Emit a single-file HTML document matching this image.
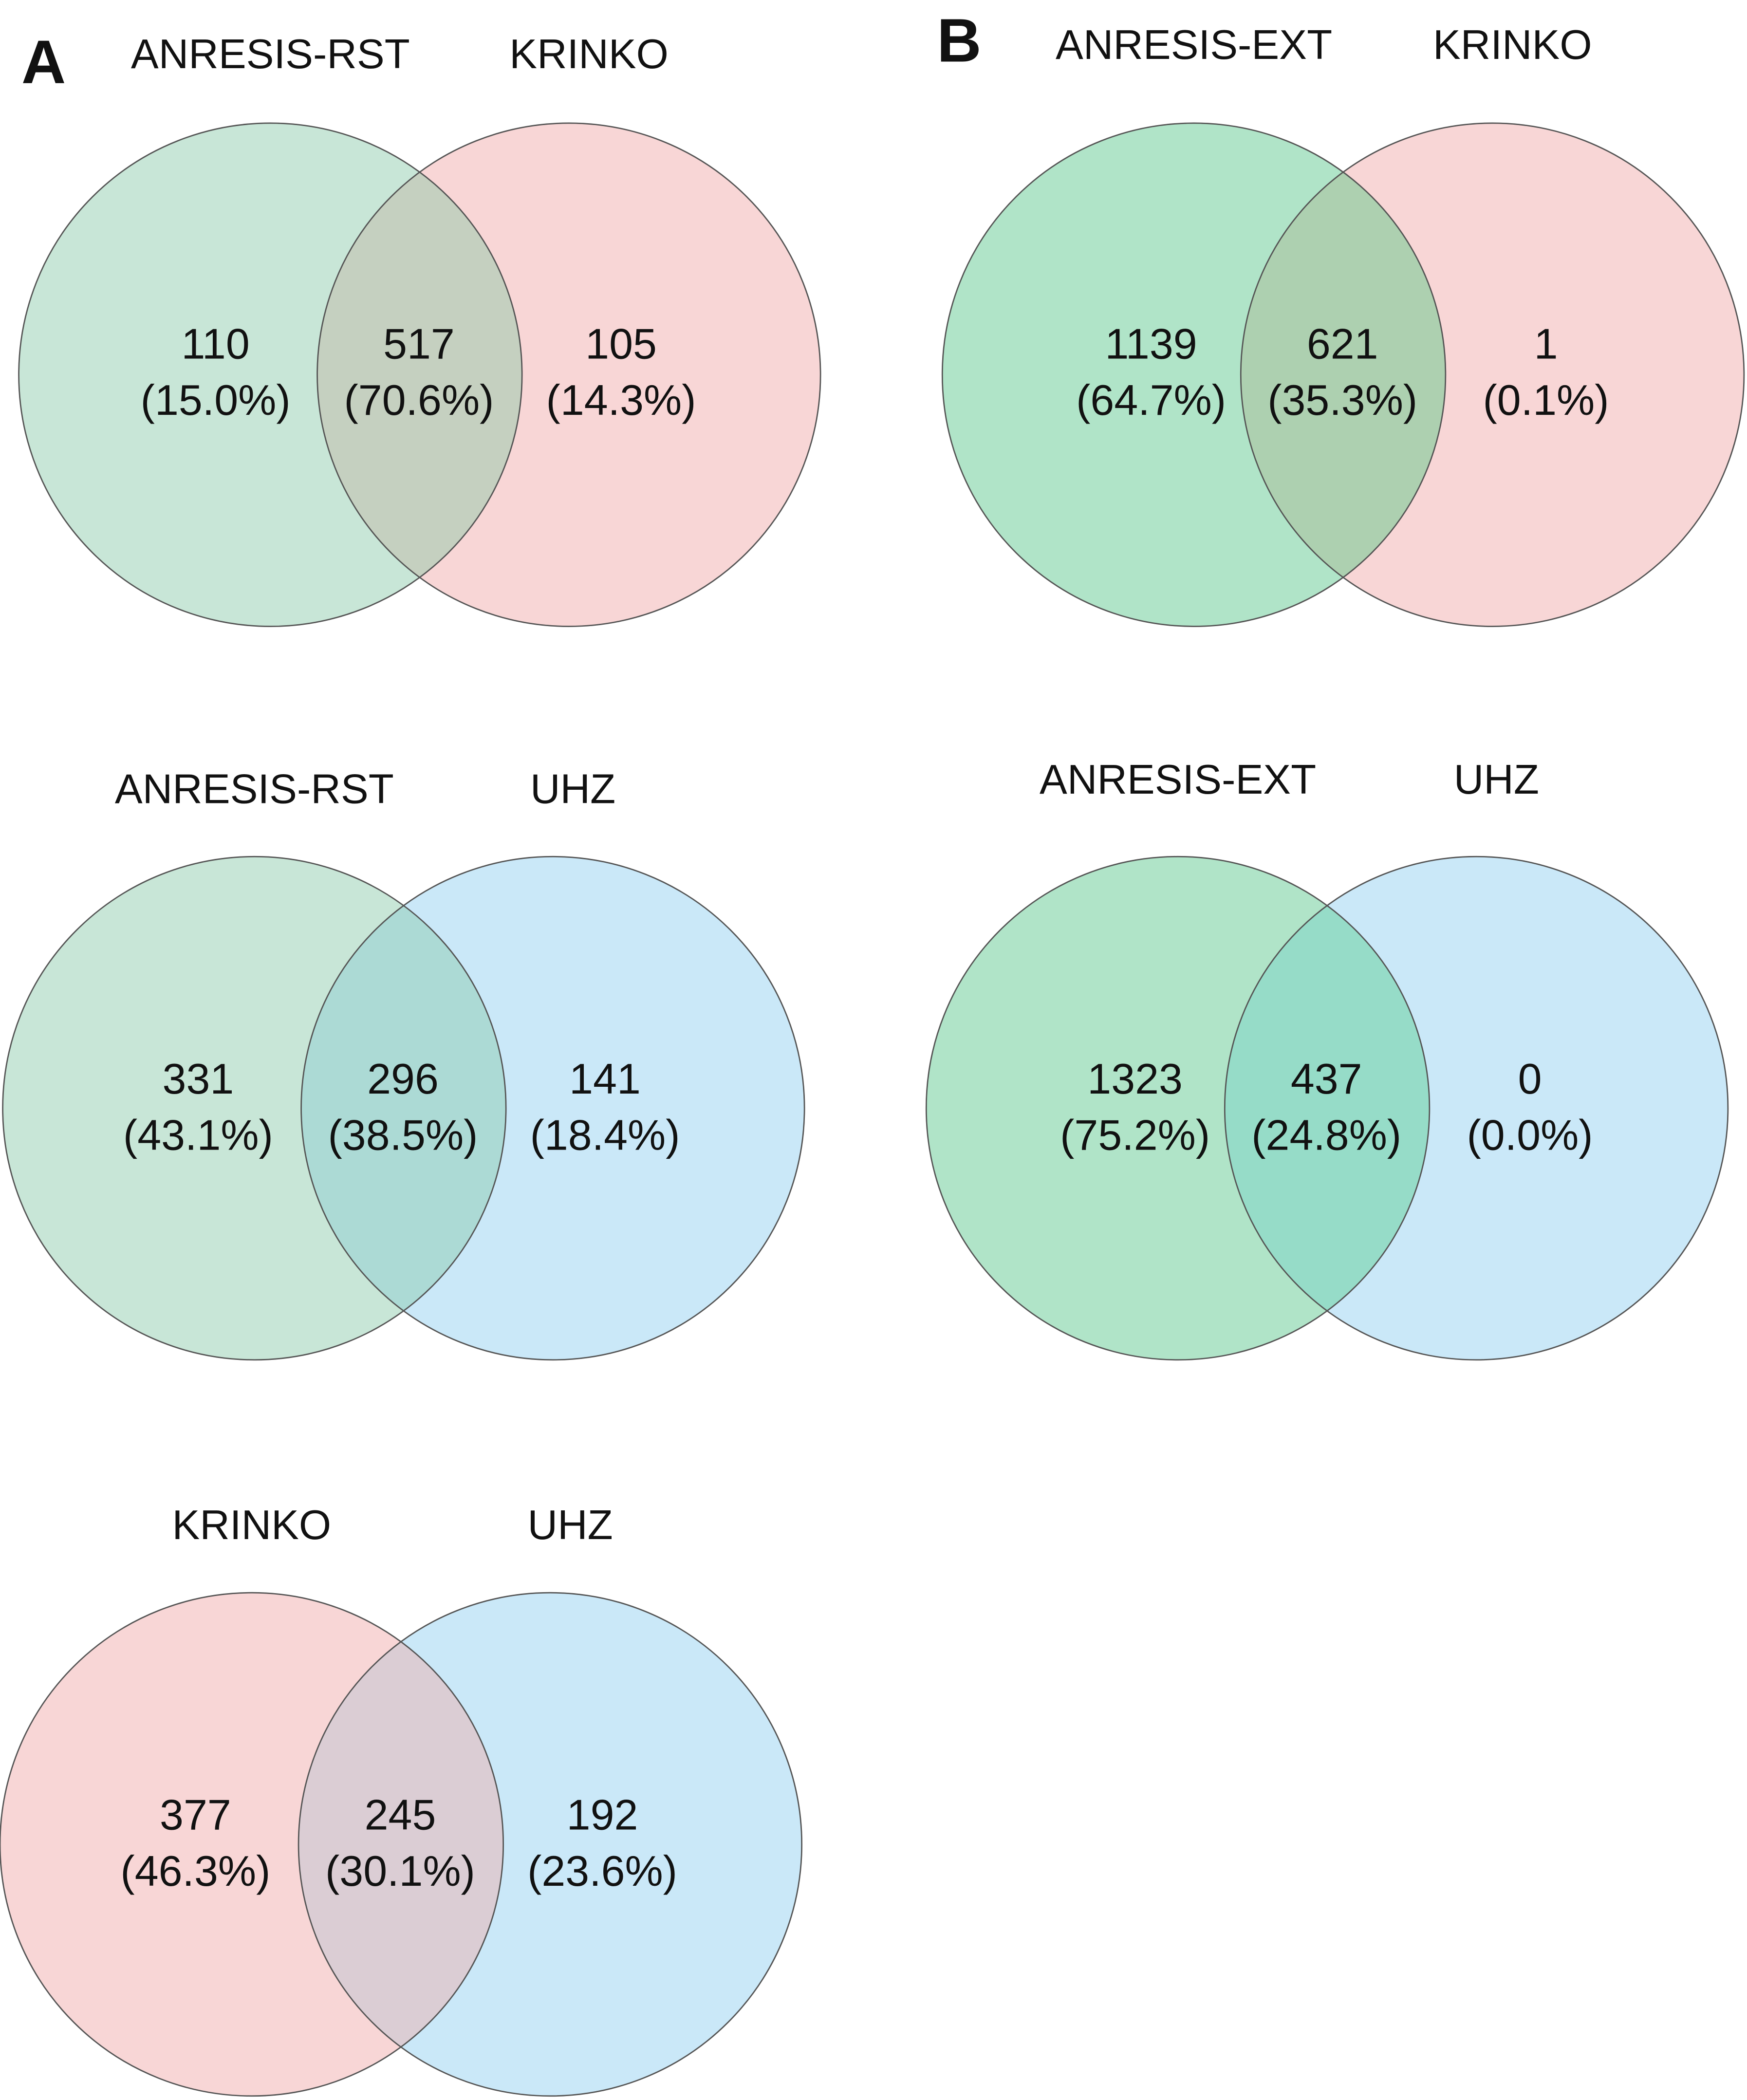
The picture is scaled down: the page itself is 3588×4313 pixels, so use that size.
<!DOCTYPE html>
<html><head><meta charset="utf-8"><style>
html,body{margin:0;padding:0;background:#fff;}
svg{display:block;}
text{font-family:"Liberation Sans",sans-serif;fill:#111;}
</style></head><body>
<svg width="3588" height="4313" viewBox="0 0 1305.2 1569" xmlns="http://www.w3.org/2000/svg">
<defs>
<clipPath id="c1"><circle cx="202" cy="280" r="188"/></clipPath>
<clipPath id="c2"><circle cx="190" cy="828" r="188"/></clipPath>
<clipPath id="c3"><circle cx="188" cy="1378" r="188"/></clipPath>
<clipPath id="c4"><circle cx="892" cy="280" r="188"/></clipPath>
<clipPath id="c5"><circle cx="880" cy="828" r="188"/></clipPath>
</defs>
<rect width="1305.2" height="1569" fill="#fff"/>
<g>
<circle cx="202" cy="280" r="188" fill="#c8e6d7"/>
<circle cx="425" cy="280" r="188" fill="#f8d6d6"/>
<circle cx="425" cy="280" r="188" fill="#c5d0c0" clip-path="url(#c1)"/>
<circle cx="190" cy="828" r="188" fill="#c8e6d7"/>
<circle cx="413" cy="828" r="188" fill="#cae8f8"/>
<circle cx="413" cy="828" r="188" fill="#acdad5" clip-path="url(#c2)"/>
<circle cx="188" cy="1378" r="188" fill="#f8d6d6"/>
<circle cx="411" cy="1378" r="188" fill="#cae8f8"/>
<circle cx="411" cy="1378" r="188" fill="#dbcdd4" clip-path="url(#c3)"/>
<circle cx="892" cy="280" r="188" fill="#b0e4c8"/>
<circle cx="1115" cy="280" r="188" fill="#f8d6d6"/>
<circle cx="1115" cy="280" r="188" fill="#add0b0" clip-path="url(#c4)"/>
<circle cx="880" cy="828" r="188" fill="#b0e4c8"/>
<circle cx="1103" cy="828" r="188" fill="#cae8f8"/>
<circle cx="1103" cy="828" r="188" fill="#96dcc8" clip-path="url(#c5)"/>
</g>
<g stroke="#555" stroke-width="1" fill="none">
<circle cx="202" cy="280" r="188"/><circle cx="425" cy="280" r="188"/>
<circle cx="190" cy="828" r="188"/><circle cx="413" cy="828" r="188"/>
<circle cx="188" cy="1378" r="188"/><circle cx="411" cy="1378" r="188"/>
<circle cx="892" cy="280" r="188"/><circle cx="1115" cy="280" r="188"/>
<circle cx="880" cy="828" r="188"/><circle cx="1103" cy="828" r="188"/>
</g>
<g font-size="31" text-anchor="middle">
<text x="202" y="51">ANRESIS-RST</text><text x="440" y="51">KRINKO</text>
<text x="190" y="600">ANRESIS-RST</text><text x="428" y="600">UHZ</text>
<text x="188" y="1150">KRINKO</text><text x="426" y="1150">UHZ</text>
<text x="892" y="44">ANRESIS-EXT</text><text x="1130" y="44">KRINKO</text>
<text x="880" y="593">ANRESIS-EXT</text><text x="1118" y="593">UHZ</text>
</g>
<g font-size="32" text-anchor="middle">
<text x="161" y="268">110</text><text x="161" y="310">(15.0%)</text>
<text x="313" y="268">517</text><text x="313" y="310">(70.6%)</text>
<text x="464" y="268">105</text><text x="464" y="310">(14.3%)</text>
<text x="148" y="817">331</text><text x="148" y="859">(43.1%)</text>
<text x="301" y="817">296</text><text x="301" y="859">(38.5%)</text>
<text x="452" y="817">141</text><text x="452" y="859">(18.4%)</text>
<text x="146" y="1367">377</text><text x="146" y="1409">(46.3%)</text>
<text x="299" y="1367">245</text><text x="299" y="1409">(30.1%)</text>
<text x="450" y="1367">192</text><text x="450" y="1409">(23.6%)</text>
<text x="860" y="268">1139</text><text x="860" y="310">(64.7%)</text>
<text x="1003" y="268">621</text><text x="1003" y="310">(35.3%)</text>
<text x="1155" y="268">1</text><text x="1155" y="310">(0.1%)</text>
<text x="848" y="817">1323</text><text x="848" y="859">(75.2%)</text>
<text x="991" y="817">437</text><text x="991" y="859">(24.8%)</text>
<text x="1143" y="817">0</text><text x="1143" y="859">(0.0%)</text>
</g>
<text x="16" y="62" font-size="46" font-weight="bold">A</text>
<text x="700" y="46" font-size="46" font-weight="bold">B</text>
</svg>
</body></html>
